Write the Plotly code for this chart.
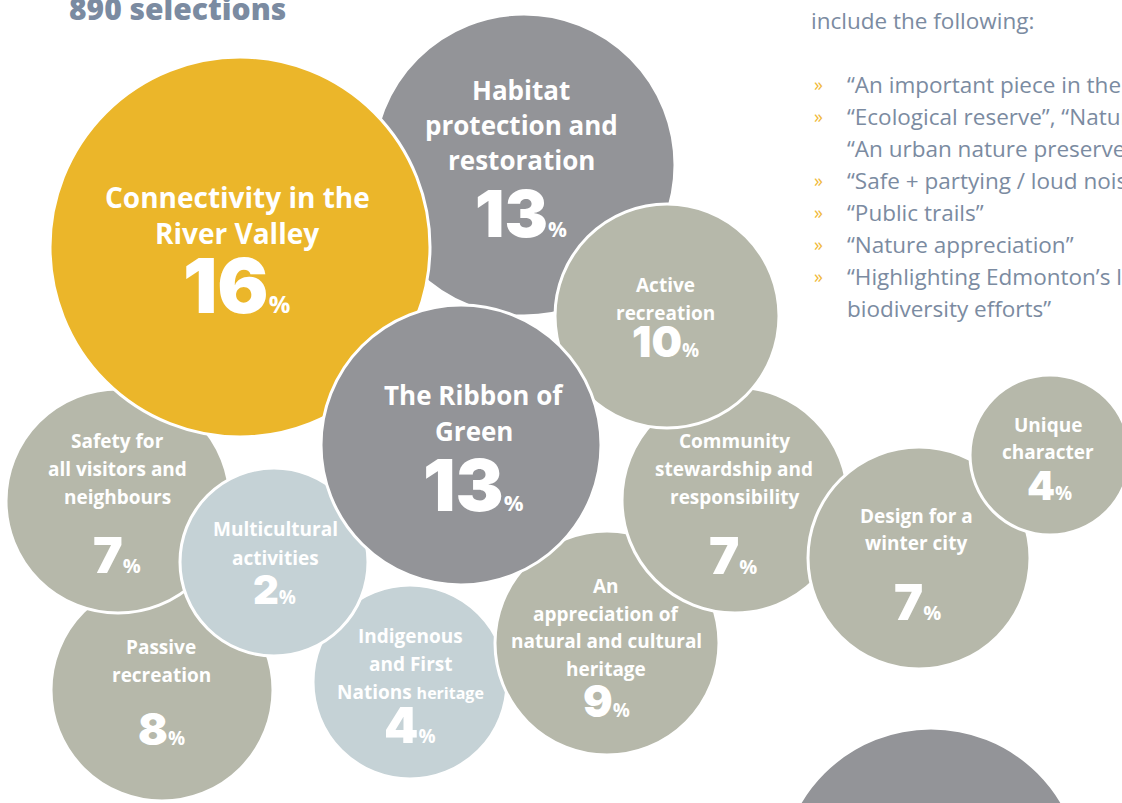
import plotly.graph_objects as go

# ---- data ----
categories = [
    "Connectivity in the River Valley",
    "Habitat protection and restoration",
    "The Ribbon of Green",
    "Active recreation",
    "Community stewardship and responsibility",
    "Design for a winter city",
    "Unique character",
    "Safety for all visitors and neighbours",
    "Multicultural activities",
    "Passive recreation",
    "Indigenous and First Nations heritage",
    "An appreciation of natural and cultural heritage",
]
values = [16, 13, 13, 10, 7, 7, 4, 7, 2, 8, 4, 9]

label_lines = [
    ["Connectivity in the", "River Valley"],
    ["Habitat", "protection and", "restoration"],
    ["The Ribbon of", "Green"],
    ["Active", "recreation"],
    ["Community", "stewardship and", "responsibility"],
    ["Design for a", "winter city"],
    ["Unique", "character"],
    ["Safety for", "all visitors and", "neighbours"],
    ["Multicultural", "activities"],
    ["Passive", "recreation"],
    ["Indigenous", "and First", "Nations <span style='font-size:16px'>heritage</span>"],
    ["An", "appreciation of", "natural and cultural", "heritage"],
]

header_text = "890 selections"
intro_text = "include the following:"
quotes = [
    "“An important piece in the river valley”",
    "“Ecological reserve”, “Nature reserve”,",
    "“An urban nature preserve”",
    "“Safe + partying / loud noise”",
    "“Public trails”",
    "“Nature appreciation”",
    "“Highlighting Edmonton’s leadership in",
    "biodiversity efforts”",
]
quote_bullet = [True, True, False, True, True, True, True, False]

# ---- layout / style (pixel positions) ----
W, H = 1122, 803
cx = [240, 524, 461, 667, 735, 919, 1050, 118, 274, 162, 410, 607]
cy = [247, 165, 445, 316, 500, 558, 455, 501, 562, 690, 682, 643]
rad = [190, 151, 140, 112, 113, 111, 80, 112, 94, 111, 97, 112]
YEL, DARK, OLIVE, BLUE = "#ebb62a", "#939498", "#b6b8aa", "#c5d2d6"
colors = [YEL, DARK, DARK, OLIVE, OLIVE, OLIVE, OLIVE, OLIVE, BLUE, OLIVE, BLUE, OLIVE]
zorder = [9, 1, 10, 7, 11, 4, 0, 3, 8, 2, 5, 6]  # drawing order (back to front)

# first-line centre y, line step
lab_x = [237, 521, 474, 665, 734, 916, 1048, 117, 275, 161, 410, 606]
lab_y0 = [197, 90, 395, 285, 441, 516, 425, 441, 529, 647, 636, 586]
lab_step = [36, 35, 36, 28, 28, 27, 27, 28, 29, 28, 28, 27.7]
lab_size = [28, 26, 26, 19, 19, 19, 19, 19, 19, 19, 19, 19]
num_xy = [(236, 285), (521, 213), (473, 484), (665, 341), (733, 555), (917, 602),
          (1049, 485), (117, 555), (274, 589), (161, 729), (410, 725), (606, 701)]
num_size = [76, 65, 72, 43, 51, 49, 40, 50, 40, 44, 49, 44]
pct_size = [24, 21, 22, 19, 20, 20, 19, 20, 19, 19, 19, 19]

LABEL_FONT = "Open Sans"
NUM_FONT = "Inter"
SLATE = "#7b8ba1"

fig = go.Figure()

# background circle bottom-right (partial)
fig.add_trace(go.Scatter(
    x=[931], y=[880], mode="markers",
    marker=dict(size=2 * 152, color=DARK, line=dict(color="white", width=3)),
    hoverinfo="skip", showlegend=False))

order = zorder
fig.add_trace(go.Scatter(
    x=[cx[i] for i in order], y=[cy[i] for i in order],
    mode="markers",
    marker=dict(size=[2 * rad[i] for i in order], sizemode="diameter",
                color=[colors[i] for i in order], opacity=1,
                line=dict(color="white", width=3)),
    text=[f"{categories[i]}: {values[i]}%" for i in order],
    hoverinfo="text", showlegend=False))

ann = []
for i in range(len(categories)):
    for j, line in enumerate(label_lines[i]):
        ann.append(dict(x=lab_x[i], y=lab_y0[i] + j * lab_step[i], xref="x", yref="y",
                        text=line, showarrow=False, align="center",
                        xanchor="center", yanchor="middle",
                        font=dict(family=LABEL_FONT, size=lab_size[i], color="white",
                                  weight="bold")))
    ann.append(dict(x=num_xy[i][0], y=num_xy[i][1], xref="x", yref="y",
                    text=f"{values[i]}<span style='font-size:{pct_size[i]}px;font-family:{LABEL_FONT};font-weight:700'>%</span>",
                    showarrow=False, xanchor="center", yanchor="middle",
                    font=dict(family=NUM_FONT, size=num_size[i], color="white",
                              weight=900)))

ann.append(dict(x=67, y=8, xref="x", yref="y", text=header_text, showarrow=False,
                xanchor="left", yanchor="middle",
                font=dict(family=LABEL_FONT, size=30, color=SLATE, weight=800)))
ann.append(dict(x=809, y=20, xref="x", yref="y", text=intro_text, showarrow=False,
                xanchor="left", yanchor="middle",
                font=dict(family=LABEL_FONT, size=22.5, color=SLATE)))
for k, q in enumerate(quotes):
    yy = 84 + 32 * k
    if quote_bullet[k]:
        ann.append(dict(x=812, y=yy, xref="x", yref="y", text="»", showarrow=False,
                        xanchor="left", yanchor="middle",
                        font=dict(family=LABEL_FONT, size=18, color="#f0b93a")))
    ann.append(dict(x=845, y=yy, xref="x", yref="y", text=q, showarrow=False,
                    xanchor="left", yanchor="middle",
                    font=dict(family=LABEL_FONT, size=22.5, color=SLATE)))

fig.update_layout(
    width=W, height=H, margin=dict(l=0, r=0, t=0, b=0),
    paper_bgcolor="white", plot_bgcolor="white",
    xaxis=dict(range=[0, W], visible=False, fixedrange=True),
    yaxis=dict(range=[H, 0], visible=False, fixedrange=True),
    annotations=ann, showlegend=False,
)

fig.write_html("out.html", config={"displayModeBar": False},
               post_script="document.body.style.margin='0';document.body.style.overflow='hidden';")
